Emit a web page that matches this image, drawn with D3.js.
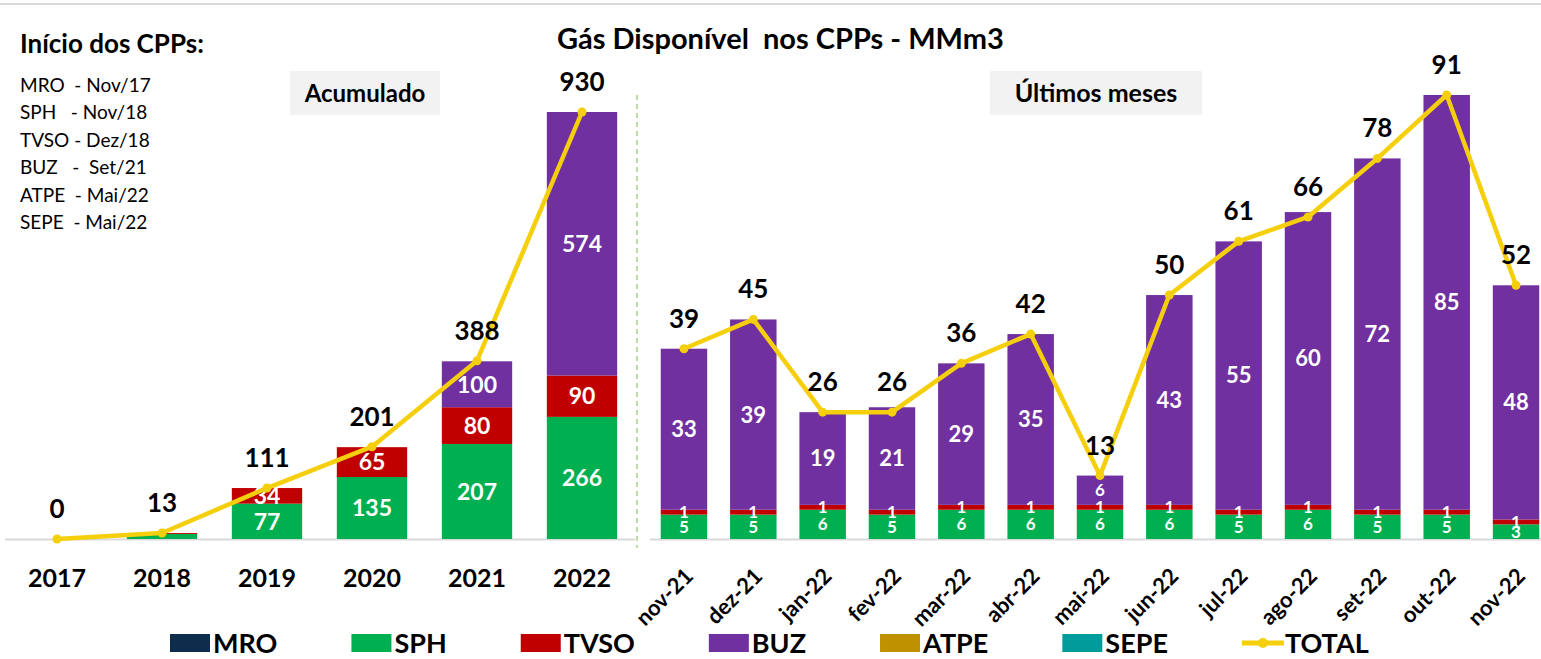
<!DOCTYPE html>
<html lang="pt">
<head>
<meta charset="UTF-8">
<title>Gás Disponível nos CPPs - MMm3</title>
<script src="https://cdnjs.cloudflare.com/ajax/libs/d3/7.8.5/d3.min.js"></script>
<style>
    body { margin: 0; background: #fff; }
    svg text { font-family: Lato, "Open Sans", sans-serif; }
</style>
</head>
<body>
<svg id="chart" width="1541" height="659"></svg>
<script>
// series and colours
const keys = ["MRO", "SPH", "TVSO", "BUZ", "ATPE", "SEPE"];
const colors = ["#0e2c4c", "#00b050", "#c00000", "#7030a0", "#bf9000", "#009c9c"];
const totalColor = "#f5cf0b";

// accumulated by year
const years = ["2017", "2018", "2019", "2020", "2021", "2022"];
const yearMRO  = [0, 0, 0, 0, 0, 0];
const yearSPH  = [0, 11, 77, 135, 207, 266];
const yearTVSO = [0, 2, 34, 65, 80, 90];
const yearBUZ  = [0, 0, 0, 0, 100, 574];
const yearATPE = [0, 0, 0, 0, 0, 0];
const yearSEPE = [0, 0, 0, 0, 0, 0];
const yearTotal = [0, 13, 111, 201, 388, 930];

// last months
const months = ["nov-21", "dez-21", "jan-22", "fev-22", "mar-22", "abr-22", "mai-22",
                "jun-22", "jul-22", "ago-22", "set-22", "out-22", "nov-22"];
const monthMRO  = [0, 0, 0, 0, 0, 0, 0, 0, 0, 0, 0, 0, 0];
const monthSPH  = [5, 5, 6, 5, 6, 6, 6, 6, 5, 6, 5, 5, 3];
const monthTVSO = [1, 1, 1, 1, 1, 1, 1, 1, 1, 1, 1, 1, 1];
const monthBUZ  = [33, 39, 19, 21, 29, 35, 6, 43, 55, 60, 72, 85, 48];
const monthATPE = [0, 0, 0, 0, 0, 0, 0, 0, 0, 0, 0, 0, 0];
const monthSEPE = [0, 0, 0, 0, 0, 0, 0, 0, 0, 0, 0, 0, 0];
const monthTotal = [39, 45, 26, 26, 36, 42, 13, 50, 61, 66, 78, 91, 52];

const startDates = ["MRO  - Nov/17", "SPH   - Nov/18", "TVSO - Dez/18",
                    "BUZ   -  Set/21", "ATPE  - Mai/22", "SEPE  - Mai/22"];

const svg = d3.select("#chart");
const baseY = 539;

// thin top border
svg.append("line")
    .attr("x1", 0).attr("x2", 1541).attr("y1", 4).attr("y2", 4)
    .attr("stroke", "#d9d9d9").attr("stroke-width", 2);

function buildRows(cats, cols) {
    return cats.map((c, i) => {
        const r = {cat: c};
        keys.forEach((k, j) => r[k] = cols[j][i]);
        return r;
    });
}

function drawPanel(cfg) {
    const g = svg.append("g");
    const x = d3.scaleBand().domain(cfg.cats).range(cfg.xRange)
        .paddingInner(0.33).paddingOuter(0.165);
    const y = d3.scaleLinear().domain([0, cfg.yMax]).range([baseY, cfg.yTop]);

    const rows = buildRows(cfg.cats, cfg.cols);
    const stacked = d3.stack().keys(keys)(rows);

    // axis
    const axis = g.append("g")
        .attr("transform", `translate(0,${baseY})`)
        .call(d3.axisBottom(x).tickSize(0).tickPadding(cfg.tickPad));
    axis.select(".domain").attr("stroke", "#d9d9d9").attr("stroke-width", 2);
    axis.selectAll("text")
        .attr("fill", "#000")
        .style("font-size", cfg.tickSize + "px")
        .style("font-weight", "bold");
    if (cfg.rotate) {
        axis.selectAll("text")
            .attr("y", 0).attr("dy", "0.35em")
            .attr("transform", "translate(5,33) rotate(-45)")
            .style("text-anchor", "end");
    }

    // bars
    const layer = g.selectAll(".layer").data(stacked).join("g")
        .attr("fill", (d, i) => colors[i]);
    layer.selectAll("rect").data(d => d).join("rect")
        .attr("x", d => x(d.data.cat))
        .attr("width", x.bandwidth())
        .attr("y", d => y(d[1]))
        .attr("height", d => y(d[0]) - y(d[1]));

    // segment labels
    stacked.forEach(s => {
        g.append("g").selectAll("text")
            .data(s.filter(d => (d[1] - d[0]) >= cfg.minLabel))
            .join("text")
            .attr("x", d => x(d.data.cat) + x.bandwidth() / 2)
            .attr("y", d => y((d[0] + d[1]) / 2))
            .attr("dy", "0.36em")
            .attr("text-anchor", "middle")
            .attr("fill", "#fff")
            .style("font-weight", "bold")
            .style("font-size", d => ((d[1] - d[0]) < 8 && cfg.small ? cfg.small : cfg.segSize) + "px")
            .text(d => d[1] - d[0]);
    });

    // total line
    const pts = cfg.cats.map((c, i) => ({cat: c, v: cfg.totals[i]}));
    const cx = d => x(d.cat) + x.bandwidth() / 2;
    g.append("path").datum(pts)
        .attr("fill", "none")
        .attr("stroke", totalColor)
        .attr("stroke-width", 4.5)
        .attr("stroke-linejoin", "round")
        .attr("d", d3.line().x(cx).y(d => y(d.v)));
    g.selectAll(".pt").data(pts).join("circle")
        .attr("cx", cx).attr("cy", d => y(d.v)).attr("r", 4.5)
        .attr("fill", totalColor);
    g.selectAll(".tot").data(pts).join("text")
        .attr("x", cx)
        .attr("y", d => y(d.v) - 21)
        .attr("text-anchor", "middle")
        .style("font-weight", "bold")
        .style("font-size", cfg.totSize + "px")
        .attr("fill", "#000")
        .text(d => d.v);
}

drawPanel({
    cats: years,
    cols: [yearMRO, yearSPH, yearTVSO, yearBUZ, yearATPE, yearSEPE],
    totals: yearTotal,
    xRange: [4.5, 634.5],
    yMax: 930, yTop: 112,
    tickPad: 30, tickSize: 25, rotate: false,
    minLabel: 20, segSize: 23, totSize: 26
});

drawPanel({
    cats: months,
    cols: [monthMRO, monthSPH, monthTVSO, monthBUZ, monthATPE, monthSEPE],
    totals: monthTotal,
    xRange: [649.3, 1550.7],
    yMax: 91, yTop: 95,
    tickPad: 10, tickSize: 22, rotate: true,
    minLabel: 1, segSize: 22, small: 17, totSize: 26
});

// divider
svg.append("line")
    .attr("x1", 637).attr("x2", 637).attr("y1", 95).attr("y2", 548)
    .attr("stroke", "#a9d18e").attr("stroke-width", 1.5)
    .attr("stroke-dasharray", "5,4");

// titles
svg.append("text").attr("x", 557).attr("y", 49)
    .style("font-weight", "bold").style("font-size", "29px")
    .attr("xml:space", "preserve")
    .text("Gás Disponível  nos CPPs - MMm3");

svg.append("text").attr("x", 20).attr("y", 53)
    .style("font-weight", "bold").style("font-size", "26px")
    .text("Início dos CPPs:");

svg.append("g").selectAll("text").data(startDates).join("text")
    .attr("x", 20)
    .attr("y", (d, i) => 92 + i * 27.4)
    .attr("xml:space", "preserve")
    .style("font-size", "19px")
    .style("white-space", "pre")
    .text(d => d);

// panel tags
[["Acumulado", 290, 150, 24], ["Últimos meses", 990, 212, 25]].forEach(([t, x0, w, fs]) => {
    svg.append("rect").attr("x", x0).attr("y", 71).attr("width", w).attr("height", 44)
        .attr("fill", "#f2f2f2");
    svg.append("text").attr("x", x0 + w / 2).attr("y", 102)
        .attr("text-anchor", "middle")
        .style("font-weight", "bold").style("font-size", fs + "px")
        .text(t);
});

// legend
const leg = svg.append("g").attr("transform", "translate(170,643)");
let lx = 0;
keys.concat(["TOTAL"]).forEach((k, i) => {
    const it = leg.append("g").attr("transform", `translate(${lx},0)`);
    if (k === "TOTAL") {
        it.append("line").attr("x1", 0).attr("x2", 42).attr("y1", 0).attr("y2", 0)
            .attr("stroke", totalColor).attr("stroke-width", 5);
        it.append("circle").attr("cx", 21).attr("cy", 0).attr("r", 5).attr("fill", totalColor);
    } else {
        it.append("rect").attr("x", 0).attr("y", -9).attr("width", 40).attr("height", 18)
            .attr("fill", colors[i]);
    }
    const t = it.append("text").attr("x", 43).attr("y", 0).attr("dy", "0.36em")
        .style("font-weight", "bold").style("font-size", "27px")
        .text(k);
    lx += 43 + t.node().getComputedTextLength() + 74;
});
</script>
</body>
</html>
